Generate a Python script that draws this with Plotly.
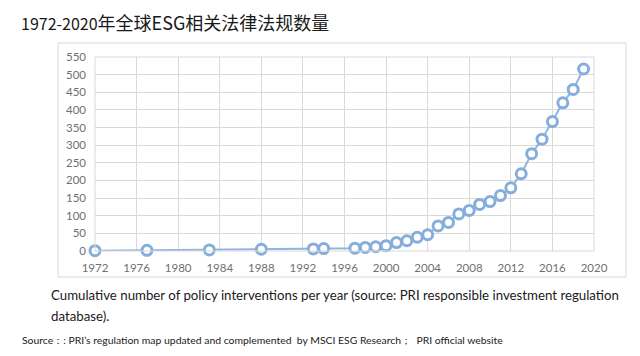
import plotly.graph_objects as go

years = [1972, 1977, 1983, 1988, 1993, 1994, 1997, 1998, 1999, 2000, 2001, 2002,
         2003, 2004, 2005, 2006, 2007, 2008, 2009, 2010, 2011, 2012, 2013, 2014,
         2015, 2016, 2017, 2018, 2019]
counts = [1, 2, 3, 5, 6, 7, 8, 10, 12, 15, 24, 29, 39, 46, 71, 81, 105, 115,
          132, 140, 157, 179, 219, 276, 317, 367, 420, 458, 516]
x_ticks = list(range(1972, 2021, 4))
y_ticks = list(range(0, 551, 50))

title_latin = "1972-2020"
title_cjk = "年全球ESG相关法律法规数量"
caption1 = "Cumulative number of policy interventions per year (source: PRI responsible investment regulation"
caption2 = "database)."
source_text = "Source：: PRI’s regulation map updated and complemented  by MSCI ESG Research；  PRI official website"

W, H = 640, 356
OFF = 8  # page body margin offset
def px(x):
    return (x - OFF) / W
def py(y):
    return 1 - (y - OFF) / H

fig = go.Figure()
fig.add_trace(go.Scatter(
    x=years, y=counts, mode="lines+markers",
    line=dict(color="#8fb4de", width=2),
    marker=dict(symbol="circle", size=10, color="white",
                line=dict(color="#86aedb", width=3)),
    cliponaxis=False, showlegend=False,
))

fig.update_layout(
    width=W, height=H,
    margin=dict(l=0, r=0, t=0, b=0, autoexpand=False),
    paper_bgcolor="white", plot_bgcolor="white",
    font=dict(family="Lato, Open Sans, sans-serif"),
    xaxis=dict(domain=[px(95), px(594)], range=[1972, 2020], automargin=False,
               tickmode="array", tickvals=x_ticks,
               showgrid=True, gridcolor="#d9d9d9", gridwidth=1,
               zeroline=False, showline=False, ticks="",
               tickfont=dict(size=11.5, color="#707070"), ticklabelstandoff=8),
    yaxis=dict(domain=[py(251), py(57)], range=[0, 550], automargin=False,
               tickmode="array", tickvals=y_ticks,
               showgrid=True, gridcolor="#d9d9d9", gridwidth=1,
               zeroline=False, showline=False, ticks="",
               tickfont=dict(size=11.5, color="#707070"), ticklabelstandoff=8),
    shapes=[dict(type="rect", xref="paper", yref="paper",
                 x0=px(58), x1=px(626), y0=py(277), y1=py(43),
                 line=dict(color="#d9d9d9", width=1), fillcolor="rgba(0,0,0,0)"),
            dict(type="rect", xref="paper", yref="paper",
                 x0=px(95), x1=px(594), y0=py(251), y1=py(57),
                 line=dict(color="#d9d9d9", width=1), fillcolor="rgba(0,0,0,0)")],
    annotations=[
        dict(text=title_latin + "<span style='font-size:18px'>" + title_cjk + "</span>",
             xref="paper", yref="paper", x=px(19), y=py(22),
             xanchor="left", yanchor="middle", showarrow=False,
             font=dict(family="Noto Sans CJK SC", size=16, color="#1a1a1a")),
        dict(text=caption1, xref="paper", yref="paper", x=px(49), y=py(295),
             xanchor="left", yanchor="middle", showarrow=False,
             font=dict(size=13.25, color="#1a1a1a")),
        dict(text=caption2, xref="paper", yref="paper", x=px(49), y=py(316),
             xanchor="left", yanchor="middle", showarrow=False,
             font=dict(size=13.25, color="#1a1a1a")),
        dict(text=source_text, xref="paper", yref="paper", x=px(20), y=py(340),
             xanchor="left", yanchor="middle", showarrow=False,
             font=dict(size=10.4, color="#1a1a1a")),
    ],
)

fig.write_html("out.html")
